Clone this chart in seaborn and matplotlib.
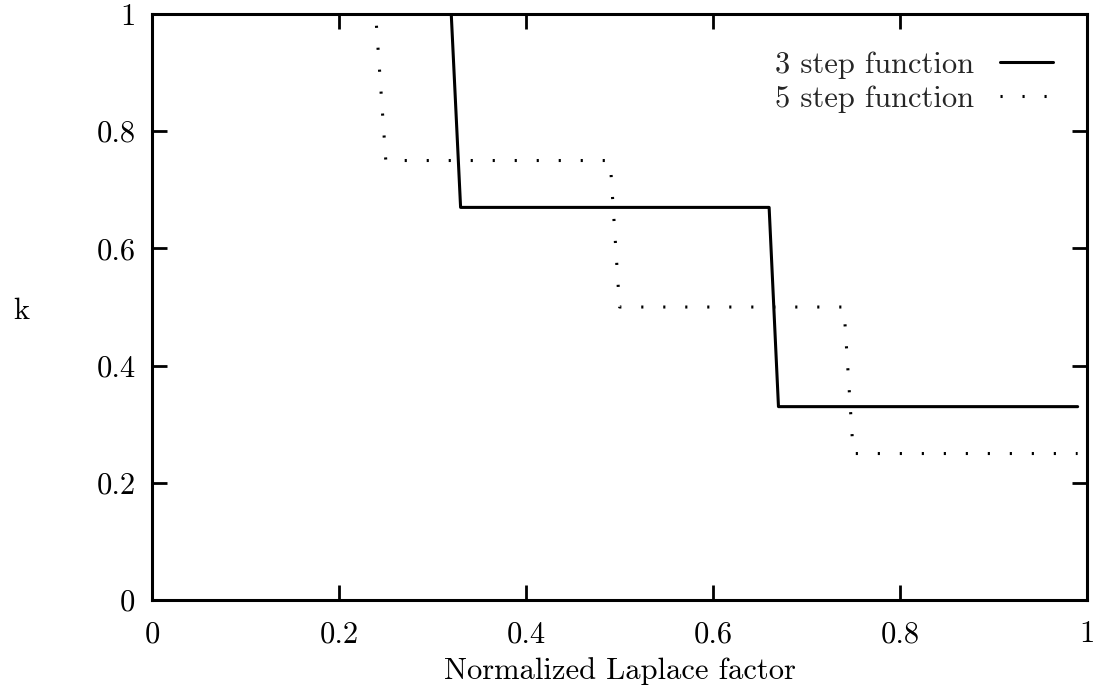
import matplotlib
matplotlib.use("Agg")
import pandas as pd
import seaborn as sns
from matplotlib import pyplot as plt

# step functions
x_3step = [0.32, 0.33, 0.66, 0.67, 0.99]
k_3step = [1.0, 0.67, 0.67, 0.33, 0.33]
x_5step = [0.24, 0.25, 0.49, 0.50, 0.74, 0.75, 0.99]
k_5step = [0.98, 0.75, 0.75, 0.50, 0.50, 0.25, 0.25]
ticks = [0, 0.2, 0.4, 0.6, 0.8, 1]
tick_labels = ["0", "0.2", "0.4", "0.6", "0.8", "1"]

sns.set_theme(style="ticks")
plt.rcParams["font.family"] = ["cmr10", "DejaVu Serif"]
plt.rcParams["axes.formatter.use_mathtext"] = True

df = pd.concat(
    [
        pd.DataFrame({"x": x_3step, "k": k_3step, "series": "3 step function"}),
        pd.DataFrame({"x": x_5step, "k": k_5step, "series": "5 step function"}),
    ]
)

fig = plt.figure(figsize=(10.94, 6.87), dpi=100)
ax = fig.add_axes([0.139, 0.1266, 0.8546, 0.853])

sns.lineplot(data=df[df.series == "3 step function"], x="x", y="k", sort=False,
             color="black", lw=2.2, ax=ax, label="3 step function")
sns.lineplot(data=df[df.series == "5 step function"], x="x", y="k", sort=False,
             color="black", lw=2.2, ax=ax, label="5 step function",
             linestyle=(0, (0.7, 6.5)))

ax.set_xlim(0, 1)
ax.set_ylim(0, 1)
ax.set_xticks(ticks)
ax.set_xticklabels(tick_labels)
ax.set_yticks(ticks)
ax.set_yticklabels(tick_labels)
ax.tick_params(direction="in", length=11, width=2, labelsize=22, pad=12,
               top=True, right=True, colors="black")
ax.tick_params(axis="x", pad=15)
for s in ax.spines.values():
    s.set_linewidth(2.2)
    s.set_color("black")

ax.set_xlabel("Normalized Laplace factor", fontsize=22, labelpad=6, color="black")
ax.set_ylabel("k", fontsize=22, rotation=0, color="black")
ax.yaxis.set_label_coords(-0.14, 0.47)

leg = ax.legend(loc="upper right", frameon=False, markerfirst=False, fontsize=22,
                handlelength=1.75, handletextpad=0.85, labelspacing=0.22,
                borderaxespad=0.7, bbox_to_anchor=(1.0, 0.994))

fig.savefig("out.png", dpi=100)
